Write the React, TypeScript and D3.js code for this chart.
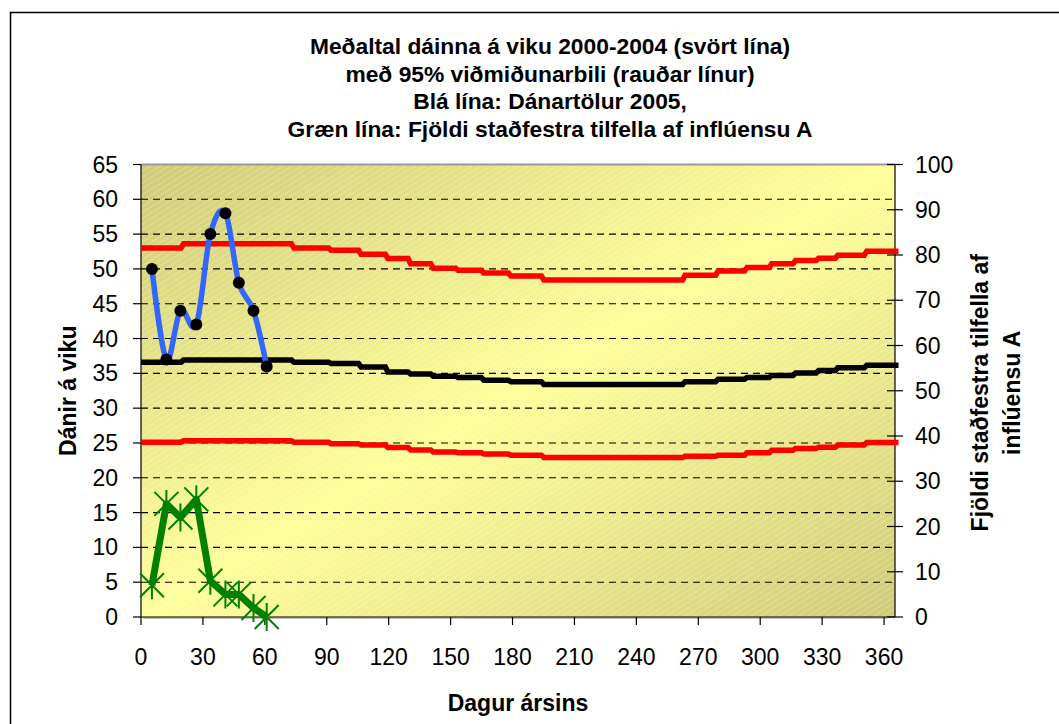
import React from "react";
import * as d3 from "d3";

// Baseline 2000-2004: level changes at these days of the year
const breakDays = [0, 20, 73.5, 91.5, 106, 119, 130, 141, 153, 165.5, 178.6, 194.6, 263, 279, 293, 305, 316.5, 327.7, 337, 351, 367];
const upperLevels = [53.0, 53.6, 53.0, 52.7, 52.1, 51.5, 50.75, 50.1, 49.8, 49.4, 49.0, 48.4, 49.1, 49.7, 50.2, 50.75, 51.2, 51.55, 51.95, 52.55];
const meanLevels = [36.6, 36.9, 36.6, 36.4, 35.9, 35.2, 34.9, 34.6, 34.4, 34.0, 33.8, 33.4, 33.8, 34.15, 34.4, 34.7, 35.05, 35.4, 35.8, 36.15];
const lowerLevels = [25.1, 25.3, 25.1, 24.9, 24.7, 24.35, 24.0, 23.7, 23.6, 23.4, 23.25, 22.9, 23.1, 23.25, 23.6, 23.96, 24.2, 24.4, 24.7, 25.05];

// 2005 weekly values
const weekDays = [5.3, 12.3, 19.1, 26.8, 33.6, 40.9, 47.4, 54.5, 60.9];
const deaths2005 = [50, 37, 44, 42, 55, 58, 48, 44, 36];
const fluCases = [7, 25, 22, 26, 8, 5, 5, 2, 0];

const xTicks = [0, 30, 60, 90, 120, 150, 180, 210, 240, 270, 300, 330, 360];
const leftTicks = [0, 5, 10, 15, 20, 25, 30, 35, 40, 45, 50, 55, 60, 65];
const rightTicks = [0, 10, 20, 30, 40, 50, 60, 70, 80, 90, 100];

const titleLines = [
  "Meðaltal dáinna á viku 2000-2004 (svört lína)",
  "með 95% viðmiðunarbili (rauðar línur)",
  "Blá lína: Dánartölur 2005,",
  "Græn lína: Fjöldi staðfestra tilfella af inflúensu A",
];

const W = 1059;
const H = 724;
const plot = { left: 141, right: 895, top: 164.5, bottom: 617 };
const FONT = "'Liberation Sans', Arial, sans-serif";

export default function App() {
  const x = d3.scaleLinear().domain([0, 365.3]).range([plot.left, plot.right]);
  const yL = d3.scaleLinear().domain([0, 65]).range([plot.bottom, plot.top]);
  const yR = d3.scaleLinear().domain([0, 100]).range([plot.bottom, plot.top]);

  // stepped band lines: flat runs with short slanted transitions
  const stepPoints = (levels: number[]) => {
    const pts: [number, number][] = [];
    levels.forEach((v, i) => {
      const a = breakDays[i] + (i === 0 ? 0 : 0.6);
      const b = breakDays[i + 1] - (i === levels.length - 1 ? 0 : 0.6);
      pts.push([a, v], [b, v]);
    });
    return pts;
  };
  const stepLine = d3.line<[number, number]>().x((d) => x(d[0])).y((d) => yL(d[1]));

  const blueLine = d3
    .line<number>()
    .x((_, i) => x(weekDays[i]))
    .y((d) => yL(d))
    .curve(d3.curveCardinal.tension(0));
  const greenLine = d3
    .line<number>()
    .x((_, i) => x(weekDays[i]))
    .y((d) => yR(d));

  const gridVals = leftTicks.filter((t) => t > 0 && t < 65);

  return (
    <svg width={W} height={H} style={{ position: "absolute", left: 0, top: 0 }} fontFamily={FONT}>
      <defs>
        <linearGradient id="plotBg" x1="0" y1="0" x2="1" y2="1">
          <stop offset="0" stopColor="#ceca76" />
          <stop offset="0.5" stopColor="#ffff99" />
          <stop offset="1" stopColor="#ceca76" />
        </linearGradient>
        <pattern id="hatch" patternUnits="userSpaceOnUse" width="12" height="5" patternTransform="rotate(-32)">
          <line x1="0" y1="0.5" x2="12" y2="0.5" stroke="#ffffff" strokeOpacity="0.28" strokeWidth="1" />
        </pattern>
      </defs>

      <rect x={0} y={0} width={W} height={H} fill="#ffffff" />
      <rect x={10.5} y={12.5} width={W + 20} height={H + 20} fill="none" stroke="#000" strokeWidth={1.5} />

      {/* title */}
      <g fontWeight="bold" fontSize={22.8} textAnchor="middle" fill="#000">
        {titleLines.map((t, i) => (
          <text key={i} x={550} y={46 + i * 27.6} dy="0.35em">
            {t}
          </text>
        ))}
      </g>

      {/* plot area */}
      <rect x={plot.left + 2} y={plot.top + 2} width={plot.right - plot.left - 10} height={plot.bottom - plot.top} fill="#c4c4c4" />
      <rect x={plot.left} y={plot.top} width={plot.right - plot.left} height={plot.bottom - plot.top} fill="url(#plotBg)" />
      <rect x={plot.left} y={plot.top} width={plot.right - plot.left} height={plot.bottom - plot.top} fill="url(#hatch)" />
      <line x1={plot.left} x2={plot.right} y1={plot.top} y2={plot.top} stroke="#999" strokeWidth={2} />

      {/* gridlines */}
      {gridVals.map((v) => (
        <line key={v} x1={plot.left} x2={plot.right} y1={yL(v)} y2={yL(v)} stroke="#000" strokeWidth={1.1} strokeDasharray="7,5" />
      ))}

      {/* axes */}
      <line x1={plot.left} x2={plot.left} y1={plot.top} y2={plot.bottom} stroke="#000" strokeWidth={1.2} />
      <line x1={plot.right} x2={plot.right} y1={plot.top} y2={plot.bottom} stroke="#000" strokeWidth={1.2} />
      <line x1={plot.left} x2={plot.right} y1={plot.bottom} y2={plot.bottom} stroke="#000" strokeWidth={1.2} />

      <g fontSize={23} fill="#000">
        {leftTicks.map((t) => (
          <g key={t}>
            <line x1={plot.left - 8} x2={plot.left} y1={yL(t)} y2={yL(t)} stroke="#000" strokeWidth={1.2} />
            <text x={118} y={yL(t)} dy="0.35em" textAnchor="end">
              {t}
            </text>
          </g>
        ))}
        {rightTicks.map((t) => (
          <g key={t}>
            <line x1={plot.right - 8} x2={plot.right + 8} y1={yR(t)} y2={yR(t)} stroke="#000" strokeWidth={1.2} />
            <text x={915} y={yR(t)} dy="0.35em" textAnchor="start">
              {t}
            </text>
          </g>
        ))}
        {xTicks.map((t) => (
          <g key={t}>
            <line x1={x(t)} x2={x(t)} y1={plot.bottom} y2={plot.bottom + 8} stroke="#000" strokeWidth={1.2} />
            <text x={x(t)} y={665} textAnchor="middle">
              {t}
            </text>
          </g>
        ))}
      </g>

      {/* axis titles */}
      <g fontWeight="bold" fontSize={23} fill="#000" textAnchor="middle">
        <text x={(plot.left + plot.right) / 2} y={711}>
          Dagur ársins
        </text>
        <text transform={`translate(68, ${(plot.top + plot.bottom) / 2}) rotate(-90)`} dy="0.35em">
          Dánir á viku
        </text>
        <text transform={`translate(980, ${(plot.top + plot.bottom) / 2 + 2}) rotate(-90)`} dy="0.35em">
          Fjöldi staðfestra tilfella af
        </text>
        <text transform={`translate(1012, ${(plot.top + plot.bottom) / 2 + 2}) rotate(-90)`} dy="0.35em">
          inflúensu A
        </text>
      </g>

      {/* baseline band */}
      <path d={stepLine(stepPoints(upperLevels)) ?? ""} fill="none" stroke="#ff0000" strokeWidth={5.5} />
      <path d={stepLine(stepPoints(lowerLevels)) ?? ""} fill="none" stroke="#ff0000" strokeWidth={5.5} />
      <path d={stepLine(stepPoints(meanLevels)) ?? ""} fill="none" stroke="#000000" strokeWidth={5.5} />

      {/* 2005 deaths */}
      <path d={blueLine(deaths2005) ?? ""} fill="none" stroke="#3366ff" strokeWidth={5.5} strokeLinejoin="round" />
      {deaths2005.map((d, i) => (
        <circle key={i} cx={x(weekDays[i])} cy={yL(d)} r={6} fill="#000" />
      ))}

      {/* influenza A */}
      <path d={greenLine(fluCases) ?? ""} fill="none" stroke="#008000" strokeWidth={7} strokeLinejoin="round" />
      {fluCases.map((d, i) => (
        <path
          key={i}
          transform={`translate(${x(weekDays[i])}, ${yR(d)})`}
          d="M-12,-12L12,12M-12,12L12,-12M0,-14L0,14"
          fill="none"
          stroke="#008000"
          strokeWidth={2}
        />
      ))}
    </svg>
  );
}
